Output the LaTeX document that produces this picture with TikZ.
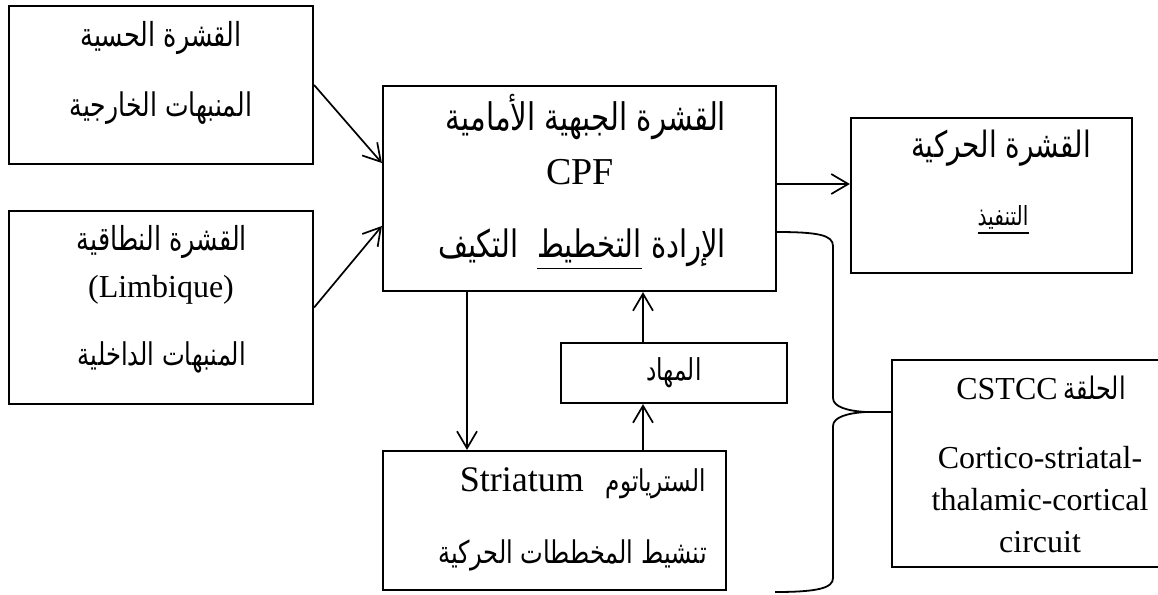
\documentclass[tikz,border=0pt]{standalone}
\usepackage{fontspec}
\usepackage{graphicx}
\setmainfont{Liberation Serif}
\newfontfamily\arabicfont[Script=Arabic]{DejaVu Sans}
\TeXXeTstate=1
\usetikzlibrary{arrows.meta}
\newcommand{\artxt}[2]{\scalebox{1}[1.3]{\resizebox{#1pt}{!}{\arabicfont #2}}}
\newcommand{\latn}[2]{{\fontsize{#1}{#1}\selectfont #2}}
\tikzset{
  box/.style={draw, line width=2.2pt, inner sep=0pt},
  txt/.style={inner sep=0pt},
  arr/.style={line width=1.7pt, -{Straight Barb[length=17pt,width=20pt]}},
  brace/.style={line width=1.8pt}
}
\begin{document}
\begin{tikzpicture}[x=1pt,y=-1pt]
\useasboundingbox (0,0) rectangle (1158,594);
\clip (0,0) rectangle (1158,594);
\fill[white] (0,0) rectangle (1158,594);
% boxes
\node[box, minimum width=304pt, minimum height=158pt] (sens) at (161,85) {};
\node[box, minimum width=304pt, minimum height=193pt] (limb) at (161,307.5) {};
\node[box, minimum width=393pt, minimum height=205pt] (cpf) at (579.5,188.5) {};
\node[box, minimum width=281pt, minimum height=155pt] (motor) at (991.5,195.5) {};
\node[box, minimum width=226pt, minimum height=60pt] (thal) at (674,373) {};
\node[box, minimum width=343pt, minimum height=139pt] (str) at (554.5,520.5) {};
\node[box, minimum width=300pt, minimum height=207pt] (cstcc) at (1042,463.5) {};
% texts
\node[txt] (sensA) at (161,38) {\artxt{161}{\beginR القشرة الحسية\endR}};
\node[txt] (sensB) at (161,108) {\artxt{182}{\beginR المنبهات الخارجية\endR}};
\node[txt] (limbA) at (162,242) {\artxt{170}{\beginR القشرة النطاقية\endR}};
\node[txt] (limbB) at (161,290) {\latn{32}{(Limbique)}};
\node[txt] (limbC) at (162,357) {\artxt{168}{\beginR المنبهات الداخلية\endR}};
\node[txt] (cpfA) at (586,117) {\artxt{280}{\beginR القشرة الجبهية الأمامية\endR}};
\node[txt] (cpfB) at (580,172) {\latn{38}{CPF}};
\node[txt] (cpfC) at (582,250) {\artxt{288}{\beginR الإرادة \underline{\beginR التخطيط\endR}\ \ التكيف\endR}};
\node[txt] (motA) at (1001,148) {\artxt{180}{\beginR القشرة الحركية\endR}};
\node[txt] (motB) at (1003,220) {\artxt{51}{\underline{\beginR التنفيذ\endR}}};
\node[txt] (thalA) at (674,373) {\artxt{55}{\beginR المهاد\endR}};
\node[txt, anchor=east] (strA) at (706,483) {\latn{36}{Striatum}\hspace{22pt}\artxt{100}{\beginR السترياتوم\endR}};
\node[txt, anchor=east] (strB) at (707,555) {\artxt{268}{\beginR تنشيط المخططات الحركية\endR}};
\node[txt] (cstA) at (1041,388) {\latn{32}{CSTCC}\hspace{6pt}\artxt{62}{\beginR الحلقة\endR}};
\node[txt] (cstB) at (1040,458) {\latn{32}{Cortico-striatal-}};
\node[txt] (cstC) at (1040,500) {\latn{32}{thalamic-cortical}};
\node[txt] (cstD) at (1040,542) {\latn{32}{circuit}};
% helper coordinates
\coordinate (tipA) at (383,163);
\coordinate (tipB) at (383,226);
\coordinate (yM) at (0,184);
\coordinate (xD) at (467,0);
\coordinate (xU) at (643,0);
% arrows
\draw[arr] (sens.east) -- (cpf.west |- tipA);
\draw[arr] (limb.east) -- (cpf.west |- tipB);
\draw[arr] (cpf.east |- yM) -- (motor.west |- yM);
\draw[arr] (cpf.south -| xD) -- (str.north -| xD);
\draw[arr] (str.north -| xU) -- (thal.south -| xU);
\draw[arr] (thal.north -| xU) -- (cpf.south -| xU);
% brace
\coordinate (bTop) at (776,232);
\coordinate (bBot) at (775,592);
\coordinate (bMid) at (866,412);
\draw[brace] (bTop) .. controls (818,232) and (833,235) .. (833,246)
  -- (833,398) .. controls (833,407) and (848,411) .. (bMid) -- (cstcc.west |- bMid);
\draw[brace] (bMid) .. controls (848,413) and (833,417) .. (833,426)
  -- (833,578) .. controls (833,588) and (818,592) .. (bBot);
\end{tikzpicture}
\end{document}
